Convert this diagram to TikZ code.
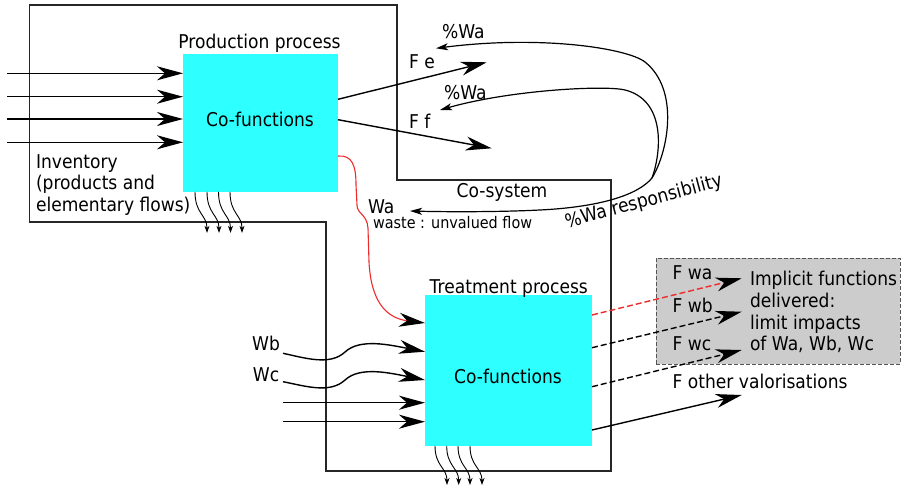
\documentclass[tikz,border=0pt]{standalone}
\usepackage{fontspec}
\setmainfont[FakeStretch=0.9]{DejaVu Sans}
\usetikzlibrary{arrows.meta}
\definecolor{cyanbox}{RGB}{46,255,255}
\definecolor{greyfill}{RGB}{204,204,204}
\definecolor{greyline}{RGB}{85,85,85}
\definecolor{redline}{RGB}{237,43,43}
\begin{document}
\begin{tikzpicture}[x=1pt,y=-1pt,
  every node/.style={inner sep=0pt,outer sep=0pt},
  lbl/.style={font=\fontsize{19}{22}\selectfont,anchor=base west},
  lblc/.style={font=\fontsize{19}{22}\selectfont,anchor=base},
  smalllbl/.style={font=\fontsize{16}{19}\selectfont,anchor=base west},
  procbox/.style={fill=cyanbox,draw=none},
  greybox/.style={fill=greyfill,draw=greyline,line width=1pt,dash pattern=on 4pt off 2pt},
  frame/.style={draw=black!85,line width=1.4pt},
  bigarrow/.style={line width=1.4pt,-{Stealth[length=26pt,width=14pt,inset=8pt,color=black]}},
  smallarrow/.style={line width=1.2pt,-{Stealth[length=12pt,width=7pt,inset=3pt]}},
  wavy/.style={line width=0.9pt,-{Stealth[length=7pt,width=5pt,inset=2pt]}},
  dashline/.style={dash pattern=on 6pt off 3pt},
]
\useasboundingbox (0,0) rectangle (907,487);

% co-system frame
\draw[frame] (29.5,5) -- (397,5) -- (397,180) -- (611,180) -- (611,471) -- (326,471) -- (326,222) -- (29.5,222) -- cycle;

% process boxes
\node[procbox,minimum width=155pt,minimum height=138pt] (prod) at (260.5,122.9) {};
\node[procbox,minimum width=167pt,minimum height=151pt] (treat) at (508.5,370.5) {};
\node[greybox,minimum width=244pt,minimum height=106pt] (grey) at (778,311.3) {};

\node[lblc] (prodtxt) at (260,126.7) {Co-functions};
\node[lblc] (treattxt) at (508,383.3) {Co-functions};
\node[lblc] (prodlbl) at (259.5,48.3) {Production process};
\node[lblc] (treatlbl) at (508.8,293.3) {Treatment process};

% inventory inputs
\foreach \i/\y in {1/73.3,2/96.7,3/119,4/142.3}{
  \coordinate (in\i) at (7,\y);
  \draw[bigarrow] (in\i) -- (in\i -| prod.west);
}
\node[lbl] (inv1) at (36,168.3) {Inventory};
\node[lbl] (inv2) at (36,189.8) {(products and};
\node[lbl] (inv3) at (36,211.3) {elementary flows)};

% elementary emissions
\foreach \dx in {12,24,35.5,47}{
  \draw[wavy] ([xshift=\dx pt]prod.south west) .. controls +(0,22) and +(0,-18) .. ++(12,41);
}
\foreach \dx in {10,21.7,33,45}{
  \draw[wavy] ([xshift=\dx pt]treat.south west) .. controls +(0,20) and +(0,-17) .. ++(12,39);
}

% production outputs
\coordinate (fe) at (486.7,62.3);
\coordinate (ff) at (491.7,148.3);
\draw[bigarrow] (prod.east |- 0,99.3) -- (fe);
\draw[bigarrow] (prod.east |- 0,119.7) -- (ff);
\node[lbl] (felbl) at (409,68.3) {F e};
\node[lbl] (fflbl) at (409,128) {F f};

% responsibility feedback
\coordinate (J) at (652,178);
\coordinate (pw1) at (436,48.3);
\coordinate (pw2) at (440,110);
\coordinate (wa) at (410,211);
\draw[smallarrow] (J) .. controls (668,152) and (680,90) .. (645,62) .. controls (627,48) and (540,35) .. (pw1);
\draw[smallarrow] (J) .. controls (662,150) and (665,100) .. (625,90) .. controls (605,85) and (510,90) .. (pw2);
\draw[smallarrow] (J) .. controls (638,195) and (600,207) .. (540,210) .. controls (500,212) and (450,212) .. (wa);
\node[lbl] (pwlbl1) at (442,38) {\%Wa};
\node[lbl] (pwlbl2) at (444,99) {\%Wa};
\node[lbl] (cosys) at (456.7,197) {Co-system};
\node[lbl] (walbl) at (368,213.3) {Wa};
\node[smalllbl] (wastelbl) at (373,228.3) {waste : unvalued flow};
\node[lbl,rotate=15] (resp) at (567,228) {\%Wa responsibility};

% waste flow to treatment
\draw[redline,line width=1.1pt,-{Stealth[length=26pt,width=14pt,inset=8pt,color=black]}]
  (prod.east |- 0,156) .. controls (352,155) and (356,165) .. (356,185) -- (357,205)
  .. controls (357,214) and (367,214) .. (368,228) -- (369,262)
  .. controls (371,300) and (385,318) .. (treat.west |- 0,323);

% other wastes and inputs to treatment
\coordinate (wb) at (283,353.3);
\coordinate (wc) at (283,381.7);
\draw[bigarrow] (wb) .. controls (305,358) and (330,366) .. (345,352) .. controls (360,338) and (390,345) .. (treat.west |- 0,351.7);
\draw[bigarrow] (wc) .. controls (305,386) and (330,394) .. (345,380) .. controls (360,366) and (390,373) .. (treat.west |- 0,380);
\node[lblc] (wblbl) at (266,350) {Wb};
\node[lblc] (wclbl) at (266,381.5) {Wc};
\coordinate (ti1) at (283,402.7);
\coordinate (ti2) at (283,421.7);
\draw[bigarrow] (ti1) -- (ti1 -| treat.west);
\draw[bigarrow] (ti2) -- (ti2 -| treat.west);

% treatment outputs
\coordinate (owa) at (741.7,278.3);
\coordinate (owb) at (741.7,311.7);
\coordinate (owc) at (741.7,350);
\coordinate (oth) at (741.7,395);
\draw[bigarrow,redline,dashline] (treat.east |- 0,315) -- (owa);
\draw[bigarrow,dashline] (treat.east |- 0,347.7) -- (owb);
\draw[bigarrow,dashline] (treat.east |- 0,386.7) -- (owc);
\draw[bigarrow] (treat.east |- 0,430) -- (oth);
\node[lbl] (fwa) at (672.7,279.3) {F wa};
\node[lbl] (fwb) at (672.7,312.3) {F wb};
\node[lbl] (fwc) at (672.7,350.7) {F wc};
\node[lbl] (foth) at (672.7,388.3) {F other valorisations};
\node[lbl] (imp1) at (750,285) {Implicit functions};
\node[lbl] (imp2) at (750,307.3) {delivered:};
\node[lbl] (imp3) at (750,329.3) {limit impacts};
\node[lbl] (imp4) at (750,350.7) {of Wa, Wb, Wc};
\end{tikzpicture}
\end{document}
